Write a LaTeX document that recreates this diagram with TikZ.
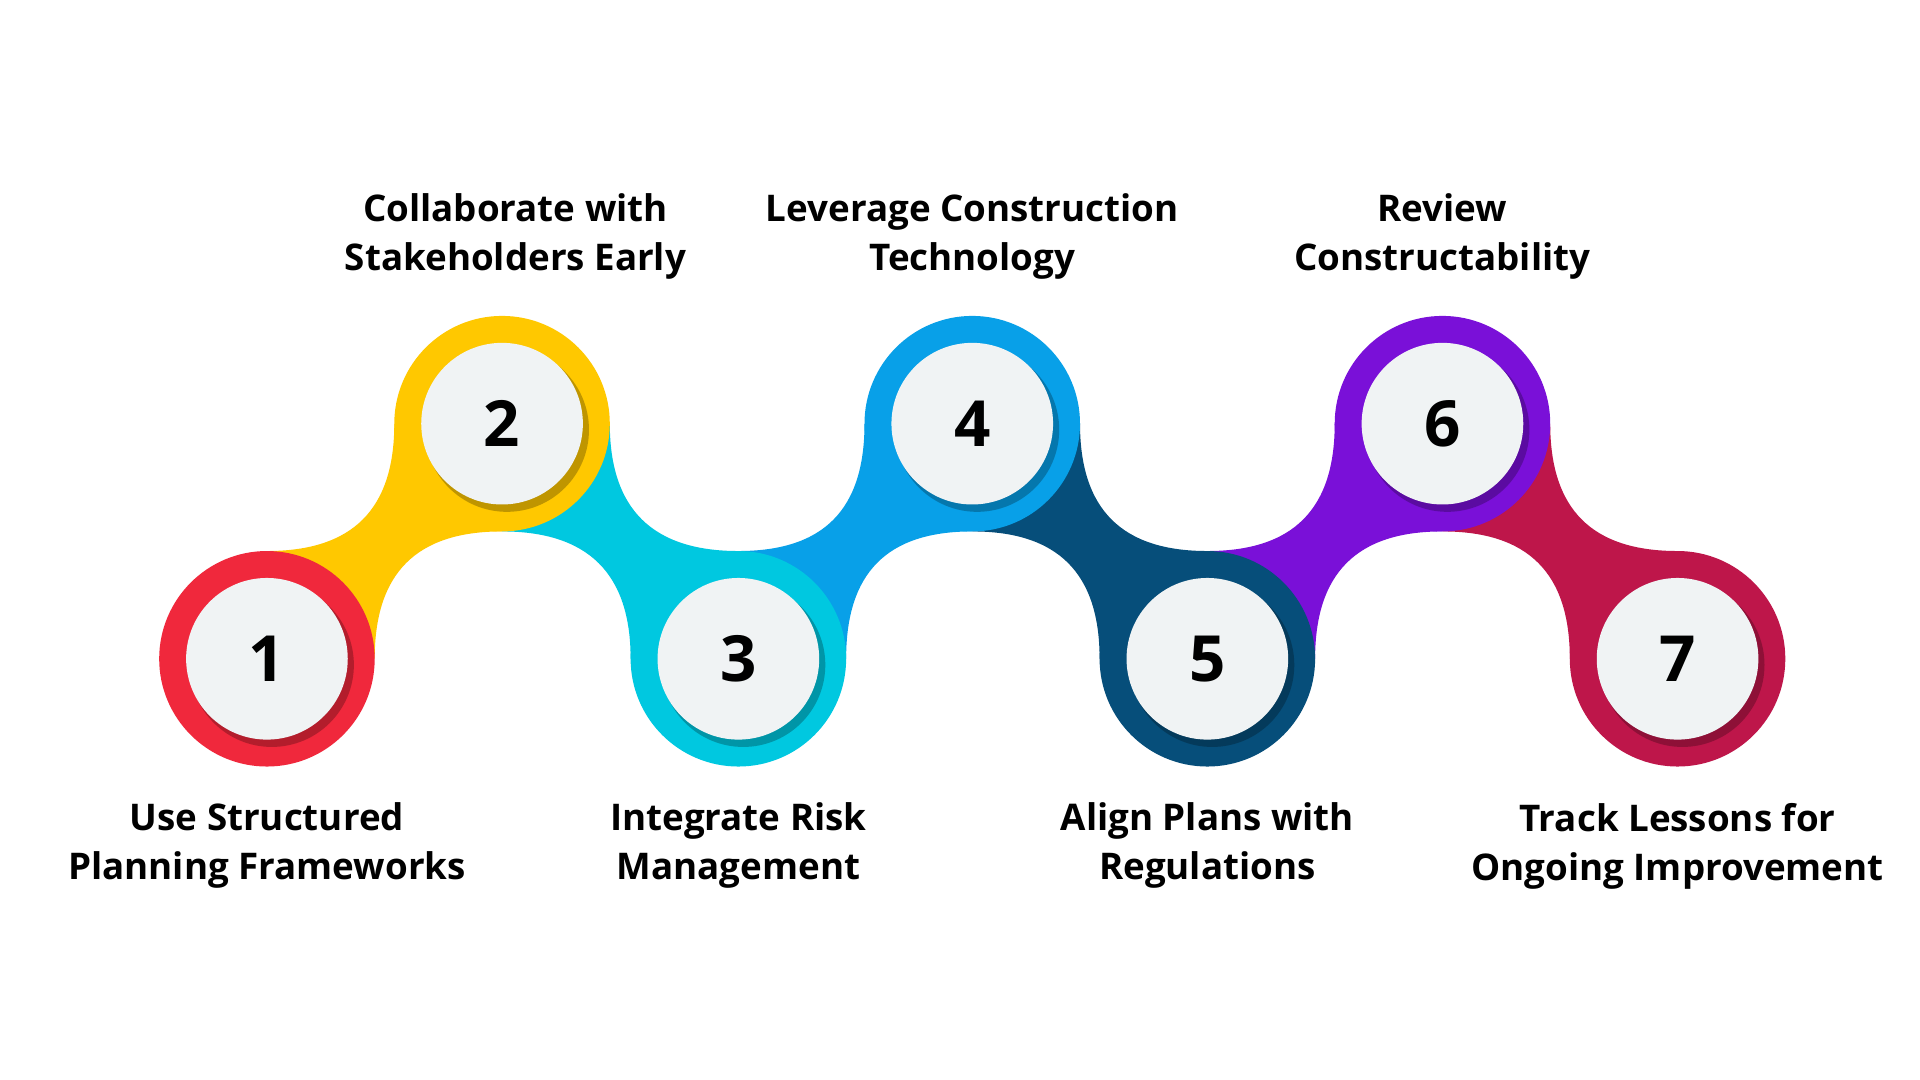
\documentclass[tikz,border=0pt]{standalone}
\usepackage{fontspec}
\setmainfont{Open Sans}
\usetikzlibrary{calc,positioning}
\definecolor{k1}{HTML}{F0283C}
\definecolor{k2}{HTML}{FFC800}
\definecolor{k3}{HTML}{00C8E0}
\definecolor{k4}{HTML}{08A0E8}
\definecolor{k5}{HTML}{064E7A}
\definecolor{k6}{HTML}{7A10D8}
\definecolor{k7}{HTML}{BE164A}
\definecolor{disc}{HTML}{F0F3F4}
\newcommand\bandUp[3]{\fill[#3] ($(#1)+(0,-88)$) .. controls ($(#1)+(70,-88)$) and ($(#2)+(-88,70)$) .. ($(#2)+(-88,0)$) -- ($(#2)+(0,88)$) .. controls ($(#2)+(-70,88)$) and ($(#1)+(88,-70)$) .. ($(#1)+(88,0)$) -- cycle;}
\newcommand\bandDown[3]{\fill[#3] ($(#1)+(0,88)$) .. controls ($(#1)+(70,88)$) and ($(#2)+(-88,-70)$) .. ($(#2)+(-88,0)$) -- ($(#2)+(0,-88)$) .. controls ($(#2)+(-70,-88)$) and ($(#1)+(88,70)$) .. ($(#1)+(88,0)$) -- cycle;}
\begin{document}
\begin{tikzpicture}[x=1pt,y=-1pt,
  ring/.style={circle,minimum size=176pt,inner sep=0pt},
  num/.style={circle,minimum size=132pt,inner sep=0pt,fill=disc,font=\fontsize{52}{52}\selectfont\bfseries},
  lab/.style={align=center,font=\fontsize{30}{40}\selectfont\bfseries,text=black}]
\useasboundingbox (0,0) rectangle (1568,882);
\fill[white] (0,0) rectangle (1568,882);
\foreach \i/\x/\y in {1/218/538,2/410/346,3/603/538,4/794/346,5/986/538,6/1178/346,7/1370/538}
  \coordinate (p\i) at (\x,\y);
\bandUp{p1}{p2}{k2}
\bandDown{p2}{p3}{k3}
\bandUp{p3}{p4}{k4}
\bandDown{p4}{p5}{k5}
\bandUp{p5}{p6}{k6}
\bandDown{p6}{p7}{k7}
\foreach \i in {1,...,7}{
  \node[ring,fill=k\i] (r\i) at (p\i) {};
  \fill[black,opacity=0.25] ($(p\i)+(4,5)$) circle (67);
  \node[num] (c\i) at (p\i) {\i};
}
\node[lab,below=48pt of c1.south] (t1) {Use Structured\\Planning Frameworks};
\node[lab,above=48pt of c2.north,xshift=11pt] (t2) {Collaborate with\\Stakeholders Early};
\node[lab,below=48pt of c3.south] (t3) {Integrate Risk\\Management};
\node[lab,above=48pt of c4.north] (t4) {Leverage Construction\\Technology};
\node[lab,below=48pt of c5.south] (t5) {Align Plans with\\Regulations};
\node[lab,above=48pt of c6.north] (t6) {Review\\Constructability};
\node[lab,below=48pt of c7.south] (t7) {Track Lessons for\\Ongoing Improvement};
\end{tikzpicture}
\end{document}
